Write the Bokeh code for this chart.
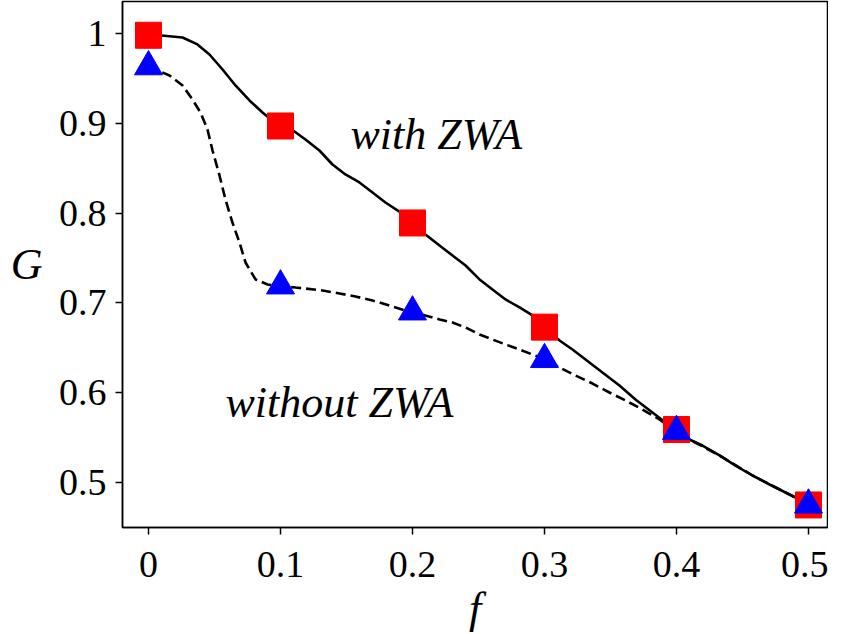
from bokeh.plotting import figure
from bokeh.models import Label, FixedTicker, Range1d, LinearAxis
from bokeh.embed import file_html
from bokeh.resources import INLINE

# Marker data (simulation points)
f_pts = [0.0, 0.1, 0.2, 0.3, 0.4, 0.5]
g_with = [0.998, 0.897, 0.789, 0.673, 0.559, 0.475]
g_without = [0.963, 0.719, 0.690, 0.637, 0.557, 0.475]

# Smooth curves
curve_with_f = [0.0, 0.0098, 0.0258, 0.0371, 0.0462, 0.0561, 0.0659, 0.0765, 0.0864, 0.0909,
                0.1, 0.1106, 0.1189, 0.1295, 0.1394, 0.1492, 0.1598, 0.1697, 0.1795, 0.1909,
                0.2, 0.2098, 0.2205, 0.2303, 0.2402, 0.2508, 0.2606, 0.2705, 0.2811, 0.2909,
                0.3, 0.3114, 0.3212, 0.3311, 0.3439, 0.3568, 0.3689, 0.3818, 0.3917,
                0.4, 0.4098, 0.4197, 0.4326, 0.4447, 0.4576, 0.4705, 0.4826, 0.4932, 0.5]
curve_with_g = [0.998, 0.9978, 0.9955, 0.9878, 0.9766, 0.9599, 0.9421, 0.9254, 0.9120, 0.9065,
                0.8976, 0.8909, 0.8820, 0.8697, 0.8541, 0.8430, 0.8341, 0.8229, 0.8118, 0.8007,
                0.7890, 0.7762, 0.7639, 0.7528, 0.7416, 0.7261, 0.7149, 0.7038, 0.6949, 0.6860,
                0.6732, 0.6581, 0.6481, 0.6370, 0.6225, 0.6080, 0.5924, 0.5780, 0.5668,
                0.5596, 0.5479, 0.5412, 0.5301, 0.5189, 0.5078, 0.4978, 0.4889, 0.4811, 0.4755]

curve_without_f = [0.0, 0.0053, 0.0159, 0.0258, 0.0333, 0.0394, 0.0447, 0.0485, 0.0538, 0.0583,
                   0.0636, 0.0689, 0.0735, 0.0811, 0.0902, 0.1, 0.1114, 0.1189, 0.1318, 0.1447,
                   0.1568, 0.1697, 0.1826, 0.1947, 0.2, 0.2098, 0.2205, 0.2303, 0.2402, 0.2508,
                   0.2606, 0.2705, 0.2811, 0.2909, 0.3, 0.3114, 0.3235, 0.3364, 0.3492, 0.3614,
                   0.3742, 0.3871, 0.4, 0.4098, 0.4326, 0.4576, 0.4826, 0.5]
curve_without_g = [0.9633, 0.9599, 0.9532, 0.9421, 0.9265, 0.9120, 0.8931, 0.8697, 0.8419, 0.8151,
                   0.7895, 0.7673, 0.7450, 0.7261, 0.7205, 0.7188, 0.7171, 0.7160, 0.7138, 0.7105,
                   0.7071, 0.7027, 0.6971, 0.6915, 0.6904, 0.6860, 0.6815, 0.6782, 0.6726, 0.6648,
                   0.6592, 0.6537, 0.6481, 0.6425, 0.6375, 0.6281, 0.6192, 0.6102, 0.6002, 0.5913,
                   0.5813, 0.5702, 0.5568, 0.5479, 0.5301, 0.5078, 0.4889, 0.4755]

x_ticks = [0.0, 0.1, 0.2, 0.3, 0.4, 0.5]
x_tick_labels = ["0", "0.1", "0.2", "0.3", "0.4", "0.5"]
y_ticks = [0.5, 0.6, 0.7, 0.8, 0.9, 1.0]
y_tick_labels = ["0.5", "0.6", "0.7", "0.8", "0.9", "1"]

SERIF = "Liberation Serif"

p = figure(frame_width=705, frame_height=526, output_backend="svg", toolbar_location=None,
           x_range=Range1d(-0.0197, 0.5144), y_range=Range1d(0.4499, 1.0356),
           min_border_left=122, min_border_right=1, min_border_top=1, min_border_bottom=91)
p.background_fill_color = "white"
p.border_fill_color = "white"
p.grid.visible = False
p.outline_line_color = "black"
p.outline_line_width = 1.5

for ax in (p.xaxis[0], p.yaxis[0]):
    ax.axis_line_width = 1.5
    ax.axis_line_color = "black"
    ax.major_tick_line_width = 1.5
    ax.major_tick_out = 7
    ax.major_tick_in = 0
    ax.minor_tick_line_color = None
    ax.major_label_text_font = SERIF
    ax.major_label_text_font_size = "38px"
    ax.major_label_text_color = "black"

p.xaxis[0].ticker = FixedTicker(ticks=x_ticks)
p.xaxis[0].major_label_overrides = dict(zip(x_ticks, x_tick_labels))
p.xaxis[0].major_label_standoff = 17
p.xaxis[0].axis_label = "f"
p.xaxis[0].axis_label_text_font = SERIF
p.xaxis[0].axis_label_text_font_style = "italic"
p.xaxis[0].axis_label_text_font_size = "44px"
p.xaxis[0].axis_label_text_color = "black"
p.xaxis[0].axis_label_standoff = 4

p.yaxis[0].ticker = FixedTicker(ticks=y_ticks)
p.yaxis[0].major_label_overrides = dict(zip(y_ticks, y_tick_labels))
p.yaxis[0].major_label_standoff = 9

# Extra left axis that only carries the horizontal "G" label
g_axis = LinearAxis(ticker=FixedTicker(ticks=[]),
                    axis_line_color=None, major_tick_line_color=None, minor_tick_line_color=None,
                    major_label_text_font_size="0px", axis_label="G",
                    axis_label_orientation="horizontal", axis_label_text_font=SERIF,
                    axis_label_text_font_style="italic", axis_label_text_font_size="44px",
                    axis_label_text_color="black", axis_label_standoff=13,
                    axis_label_text_baseline="bottom")
p.add_layout(g_axis, "left")

p.line(curve_with_f, curve_with_g, line_color="black", line_width=2.6)
p.line(curve_without_f, curve_without_g, line_color="black", line_width=2.6, line_dash="10 5")

p.scatter(f_pts, g_with, marker="square", size=26, fill_color="#ff0000", line_color="#ff0000")
p.scatter(f_pts, g_without, marker="triangle", size=28, fill_color="#0000ff", line_color="#0000ff")

p.add_layout(Label(x=0.153, y=0.8875, text="with ZWA", text_font=SERIF, text_font_style="italic",
                   text_font_size="44px", text_color="black", text_baseline="alphabetic"))
p.add_layout(Label(x=0.0583, y=0.589, text="without ZWA", text_font=SERIF, text_font_style="italic",
                   text_font_size="44px", text_color="black", text_baseline="alphabetic"))

open("out.html", "w").write(file_html(p, INLINE))
